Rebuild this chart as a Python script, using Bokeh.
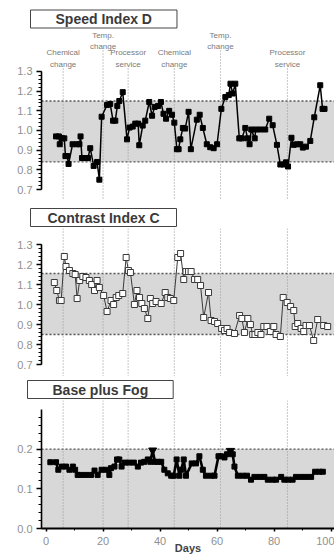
from bokeh.plotting import figure
from bokeh.models import (Range1d, BoxAnnotation, Span, Title, ColumnDataSource,
                          SingleIntervalTicker, PrintfTickFormatter, CDSView, BooleanFilter)
from bokeh.layouts import column
from bokeh.embed import file_html
from bokeh.resources import INLINE
from bokeh.core.properties import value

# ---------------- data ----------------
speed_days = [3.5, 4.5, 4.8, 5.6, 6.4, 6.8, 7.4, 7.9, 9.3, 10.8, 11.7, 12.1, 12.6, 13.8, 14.7,
              15.5, 16.7, 17.9, 18.7, 19.5, 21.4, 22.5, 23.5, 24.3, 25.0, 25.7, 26.9, 28.4,
              29.3, 30.4, 31.3, 32.3, 32.7, 33.9, 34.8, 36.2, 37.2, 38.1, 39.3, 40.3, 41.2,
              42.1, 43.2, 44.2, 45.0, 45.9, 46.5, 47.1, 48.0, 48.8, 50.0, 50.8, 52.9, 53.9,
              55.0, 56.4, 57.6, 58.8, 60.0, 61.5, 62.9, 64.1, 64.7, 65.5, 66.4, 67.8, 68.7,
              69.9, 70.7, 71.4, 72.0, 73.2, 73.6, 75.2, 76.9, 78.3, 79.5, 81.0, 82.2, 83.4,
              84.2, 84.9, 86.1, 86.9, 88.0, 89.2, 90.1, 91.2, 92.7, 94.1, 96.2, 97.0, 97.7]
speed_values = [0.97, 0.97, 0.93, 0.96, 0.96, 0.87, 0.87, 0.83, 0.93, 0.93, 0.93, 0.97, 0.86, 0.86, 0.86,
                0.91, 0.82, 0.84, 0.75, 1.07, 1.13, 1.135, 1.05, 1.05, 1.125, 1.15, 1.195, 0.955,
                1.015, 1.02, 1.035, 1.035, 0.925, 1.025, 1.05, 1.145, 1.075, 1.12, 1.125, 1.145, 1.085,
                1.06, 1.10, 1.08, 1.04, 0.905, 0.905, 0.955, 1.013, 1.01, 1.095, 0.905, 1.055, 1.08,
                1.013, 0.93, 0.915, 0.91, 0.93, 1.11, 1.17, 1.18, 1.238, 1.188, 1.238, 0.96, 0.96,
                1.013, 0.96, 0.93, 1.005, 0.96, 1.005, 1.005, 1.005, 1.06, 1.027, 0.927, 0.827, 0.827,
                0.838, 0.817, 0.963, 0.927, 0.93, 0.93, 0.913, 0.918, 0.947, 1.067, 1.23, 1.11, 1.11]

contrast_days = [2.9, 3.75, 4.7, 5.3, 6.4, 7.0, 8.2, 9.4, 10.2, 10.9, 11.8, 12.9, 14.0, 15.2,
                 16.0, 17.0, 17.9, 18.7, 20.2, 21.4, 22.8, 23.7, 24.6, 25.5, 26.9, 28.1, 28.9,
                 29.6, 31.0, 31.9, 32.8, 33.6, 34.5, 35.7, 36.6, 37.4, 38.6, 40.4, 41.8, 42.7,
                 43.6, 44.8, 46.2, 47.2, 48.3, 49.1, 50.0, 50.9, 52.1, 53.2, 54.2, 55.3, 57.0,
                 57.9, 59.1, 60.2, 61.6, 62.6, 63.5, 64.4, 66.1, 67.9, 68.7, 69.6, 70.8, 71.7,
                 72.5, 73.3, 74.3, 75.4, 76.4, 77.5, 78.7, 79.9, 80.7, 82.2, 83.2, 84.6, 85.8,
                 86.9, 87.4, 88.3, 89.5, 90.4, 91.2, 92.4, 93.9, 95.3, 97.4, 98.8]
contrast_values = [1.11, 1.07, 1.02, 1.02, 1.24, 1.19, 1.17, 1.155, 1.15, 1.03, 1.12, 1.14, 1.135, 1.12,
                   1.10, 1.07, 1.12, 1.085, 1.045, 0.965, 1.02, 1.0, 1.035, 1.045, 1.055, 1.235, 1.17,
                   1.16, 1.0, 1.07, 1.035, 1.005, 0.98, 0.93, 1.03, 1.005, 1.015, 1.005, 1.06, 1.035,
                   1.03, 1.02, 1.235, 1.255, 1.125, 1.165, 1.165, 1.165, 1.125, 1.125, 1.095, 0.935, 1.06,
                   0.92, 0.915, 0.905, 0.88, 0.87, 0.88, 0.86, 0.855, 0.945, 0.93, 0.86, 0.93, 0.90,
                   0.85, 0.85, 0.86, 0.85, 0.89, 0.89, 0.865, 0.89, 0.85, 0.84, 1.035, 1.01, 0.99,
                   0.97, 0.89, 0.905, 0.88, 0.865, 0.895, 0.895, 0.82, 0.925, 0.895, 0.89]

fog_days = [1.5, 3.5, 4.3, 5.6, 7.0, 8.2, 9.4, 10.2, 11.1, 12.3, 14.0, 15.8, 17.0, 18.1, 19.5,
            21.1, 22.2, 22.8, 24.0, 24.9, 25.7, 26.5, 27.7, 29.2, 30.8, 32.2, 33.3, 34.5, 35.7,
            36.6, 37.4, 38.2, 39.2, 40.4, 41.5, 42.7, 43.9, 44.8, 45.8, 46.8, 47.4, 48.3, 49.1,
            51.1, 52.6, 53.8, 55.0, 56.1, 57.9, 59.1, 60.5, 61.4, 62.6, 63.5, 64.7, 65.5, 66.1,
            67.3, 69.0, 70.5, 71.9, 73.1, 74.9, 76.6, 77.8, 79.5, 80.7, 82.5, 83.6, 85.0, 86.5,
            87.7, 89.5, 91.2, 93.0, 94.4, 95.9, 97.1]
fog_values = [0.167, 0.167, 0.148, 0.156, 0.156, 0.148, 0.156, 0.148, 0.135, 0.135, 0.135, 0.135, 0.146, 0.135, 0.148,
              0.148, 0.135, 0.152, 0.156, 0.174, 0.174, 0.156, 0.166, 0.166, 0.166, 0.156, 0.166, 0.168, 0.174,
              0.168, 0.197, 0.168, 0.168, 0.168, 0.148, 0.139, 0.133, 0.133, 0.174, 0.133, 0.148, 0.174, 0.133,
              0.164, 0.164, 0.182, 0.148, 0.133, 0.133, 0.133, 0.182, 0.182, 0.179, 0.187, 0.196, 0.187, 0.156,
              0.133, 0.133, 0.133, 0.123, 0.13, 0.13, 0.13, 0.123, 0.123, 0.123, 0.13, 0.123, 0.123, 0.123,
              0.13, 0.13, 0.13, 0.13, 0.143, 0.143, 0.143]

event_days = [6.0, 20.0, 28.8, 45.0, 61.2, 84.7]
event_labels = ["Chemical\nchange", "Temp.\nchange", "Processor\nservice",
                "Chemical\nchange", "Temp.\nchange", "Processor\nservice"]
panel_titles = ["Speed Index D", "Contrast Index C", "Base plus Fog"]
speed_limits = [0.84, 1.15]
contrast_limits = [0.85, 1.155]
fog_limits = [0.0, 0.2]
index_axis = [0.7, 1.3]
fog_axis = [0.0, 0.3]
x_label = "Days"

# ---------------- layout helpers ----------------
W = 334
LEFT = 41
FONT = "Liberation Sans"
x_range = Range1d(-1.6, 101.2)
SPAN_STYLE = dict(line_color="#9a9a9a", line_dash="1 2", line_width=1.1, level="underlay")


def plain(p):
    p.outline_line_color = None
    p.grid.visible = False
    p.background_fill_color = "white"
    p.border_fill_color = "white"


def style(p, lo, hi):
    plain(p)
    ax = p.yaxis[0]
    ax.ticker = SingleIntervalTicker(interval=0.1, num_minor_ticks=5)
    ax.formatter = PrintfTickFormatter(format="%.1f")
    ax.bounds = (lo, hi)
    ax.axis_line_width = 1.6
    ax.axis_line_color = "black"
    ax.major_tick_line_width = 1.6
    ax.major_tick_line_color = "black"
    ax.minor_tick_line_color = "black"
    ax.minor_tick_line_width = 1.2
    ax.major_tick_in = 0
    ax.major_tick_out = 5
    ax.minor_tick_in = 0
    ax.minor_tick_out = 3
    ax.major_label_standoff = 4
    ax.major_label_text_font = FONT
    ax.major_label_text_font_size = "11px"
    ax.major_label_text_color = "#909090"


def band(p, lo, hi, lower_line=True):
    p.add_layout(BoxAnnotation(bottom=lo, top=hi, fill_color="#d8d8d8", fill_alpha=1.0,
                               line_color=None, level="underlay"))
    p.add_layout(Span(location=hi, dimension="width", line_color="#555555",
                      line_dash="2 2", line_width=1.3, level="underlay"))
    if lower_line:
        p.add_layout(Span(location=lo, dimension="width", line_color="#555555",
                          line_dash="2 2", line_width=1.3, level="underlay"))


def boxed_title(text, offset, pad, standoff):
    return Title(text=text, align="left", offset=offset, standoff=standoff,
                 vertical_align="bottom", text_font=FONT, text_font_style="bold",
                 text_font_size="14px", text_color="#3a3a3a",
                 background_fill_color="white", border_line_color="#444444",
                 border_line_width=1, padding=dict(left=pad, right=pad, top=1, bottom=1))


# ---------------- thin dark strip along the top edge ----------------
p0 = figure(width=W, height=4, x_range=Range1d(0, 1), y_range=Range1d(0, 1),
            output_backend="svg", toolbar_location=None,
            x_axis_location=None, y_axis_location=None,
            min_border_left=0, min_border_right=0, min_border_top=0, min_border_bottom=0)
p0.outline_line_color = None
p0.grid.visible = False
p0.background_fill_color = "#111111"
p0.border_fill_color = "#111111"
p0.add_layout(BoxAnnotation(fill_color="#111111", fill_alpha=1.0, line_color=None))

# ---------------- panel 1: Speed Index D (page y 4..200, frame 29..200) ----------------
TOP1, T1, H1 = 4, 29, 196
PX1 = 196.7
y1_top = 1.3 + (71 - T1) / PX1
y1_bot = 0.7 - (TOP1 + H1 - 189) / PX1


def yv1(px):
    return y1_top - (px - T1) / PX1


p1 = figure(width=W, height=H1, x_range=x_range, y_range=Range1d(y1_bot, y1_top),
            output_backend="svg", toolbar_location=None, x_axis_location=None,
            min_border_left=LEFT, min_border_right=0, min_border_top=T1 - TOP1,
            min_border_bottom=0)
p1.title = boxed_title(panel_titles[0], offset=-11, pad=25, standoff=3)
style(p1, *index_axis)
band(p1, *speed_limits)

line_tops = [yv1(68) if "Temp" not in t else yv1(50) for t in event_labels]
text_ys = [yv1(58) if "Temp" not in t else yv1(40.5) for t in event_labels]
ev_src = ColumnDataSource(dict(x=event_days, top=line_tops, bot=[y1_bot] * len(event_days),
                               ty=text_ys, text=event_labels))
p1.segment(x0="x", y0="top", x1="x", y1="bot", source=ev_src, line_color="#9a9a9a",
           line_dash="1 2", line_width=1.1)
p1.text(x="x", y="ty", text="text", source=ev_src, text_align="center", text_baseline="middle",
        text_font=value(FONT), text_font_size="8px", text_color="#7a7a7a", text_line_height=1.25)

p1.line(speed_days, speed_values, line_color="black", line_width=1.5)
p1.scatter(speed_days, speed_values, marker="square", size=5, color="black")

# ---------------- panel 2: Contrast Index C (page y 200..376, frame 228..376) ----------------
TOP2, T2, H2 = 200, 228, 176
PX2 = 200.0
y2_top = 1.3 + (244 - T2) / PX2
y2_bot = 0.7 - (TOP2 + H2 - 364) / PX2

p2 = figure(width=W, height=H2, x_range=x_range, y_range=Range1d(y2_bot, y2_top),
            output_backend="svg", toolbar_location=None, x_axis_location=None,
            min_border_left=LEFT, min_border_right=0, min_border_top=T2 - TOP2,
            min_border_bottom=0)
p2.title = boxed_title(panel_titles[1], offset=-11, pad=17, standoff=4)
style(p2, *index_axis)
band(p2, *contrast_limits)
for d in event_days:
    p2.add_layout(Span(location=d, dimension="height", **SPAN_STYLE))
p2.line(contrast_days, contrast_values, line_color="#3a3a3a", line_width=1.0)
p2.scatter(contrast_days, contrast_values, marker="square", size=6, fill_color="white",
           line_color="#3a3a3a", line_width=1.0)

# ---------------- panel 3: Base plus Fog (page y 376..556, frame 400..529) ----------------
TOP3, T3, H3, B3 = 376, 400, 180, 27
PX3 = (TOP3 + H3 - B3 - 409) / 0.3
y3_bot = 0.0
y3_top = 0.3 + (409 - T3) / PX3

p3 = figure(width=W, height=H3, x_range=x_range, y_range=Range1d(y3_bot, y3_top),
            output_backend="svg", toolbar_location=None,
            min_border_left=LEFT, min_border_right=0, min_border_top=T3 - TOP3,
            min_border_bottom=B3)
p3.title = boxed_title(panel_titles[2], offset=-14, pad=25, standoff=4)
style(p3, *fog_axis)
band(p3, *fog_limits, lower_line=False)
for d in event_days:
    p3.add_layout(Span(location=d, dimension="height", **SPAN_STYLE))

xa = p3.xaxis[0]
xa.ticker = SingleIntervalTicker(interval=20, num_minor_ticks=2)
xa.axis_line_width = 2
xa.axis_line_color = "black"
xa.major_tick_line_color = "black"
xa.major_tick_line_width = 1.5
xa.minor_tick_line_color = "black"
xa.major_tick_in = 0
xa.major_tick_out = 3
xa.minor_tick_in = 0
xa.minor_tick_out = 2
xa.major_label_standoff = 5
xa.major_label_text_font = FONT
xa.major_label_text_font_size = "11px"
xa.major_label_text_color = "#909090"
xa.axis_label = x_label
xa.axis_label_text_font = FONT
xa.axis_label_text_font_style = "bold"
xa.axis_label_text_font_size = "11px"
xa.axis_label_text_color = "#444444"
xa.axis_label_standoff = -6

fog_src = ColumnDataSource(dict(x=fog_days, y=fog_values))
at_limit = [v >= 0.19 for v in fog_values]
p3.line("x", "y", source=fog_src, line_color="black", line_width=2.6)
p3.scatter("x", "y", source=fog_src, marker="square", size=5, color="black",
           view=CDSView(filter=BooleanFilter([not a for a in at_limit])))
p3.scatter("x", "y", source=fog_src, marker="inverted_triangle", size=8, color="black",
           view=CDSView(filter=BooleanFilter(at_limit)))

layout = column(p0, p1, p2, p3, spacing=0)
open("out.html", "w").write(file_html(layout, INLINE))
